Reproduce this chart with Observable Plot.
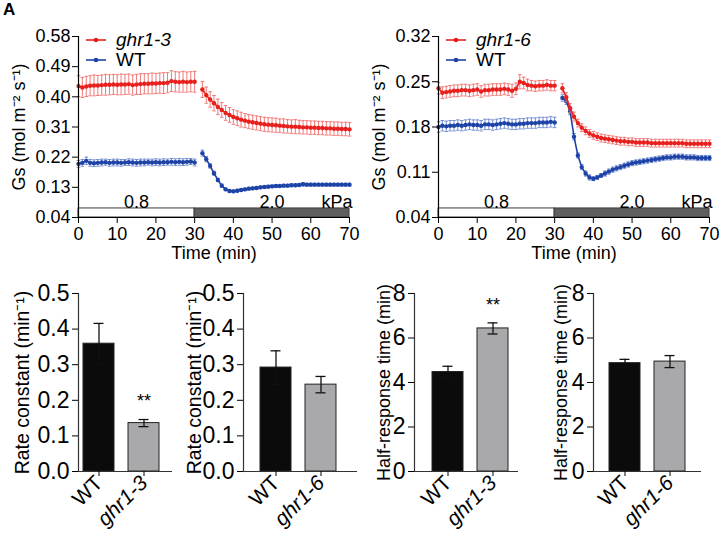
<!DOCTYPE html>
<html><head><meta charset="utf-8">
<script src="https://cdn.jsdelivr.net/npm/d3@7"></script>
<script src="https://cdn.jsdelivr.net/npm/@observablehq/plot@0.6"></script>
<style>
body{margin:0;background:#fff;font-family:"Liberation Sans",Arial,sans-serif;}
#root{position:relative;width:725px;height:536px;overflow:hidden;background:#fff;}
.panel{position:absolute;}
.leg{position:absolute;display:flex;align-items:center;font-size:19px;color:#000;line-height:20px;}
.leg svg{margin-right:10px;}
.letter{position:absolute;left:3px;top:0px;font-weight:bold;font-size:17px;}
</style></head><body><div id="root"></div>
<script>
// ---------- data ----------
const T_PRE  = [0,1,2,3,4,5,6,7,8,9,10,11,12,13,14,15,16,17,18,19,20,21,22,23,24,25,26,27,28,29,30];
const T_POST = [32,33,34,35,36,37,38,39,40,41,42,43,44,45,46,47,48,49,50,51,52,53,54,55,56,57,58,59,60,61,62,63,64,65,66,67,68,69,70];

// Panel 1: ghr1-3 vs WT
const G3_PRE = [0.432,0.428,0.431,0.433,0.434,0.434,0.435,0.436,0.436,0.437,
                0.436,0.437,0.437,0.438,0.435,0.437,0.438,0.439,0.439,0.440,
                0.440,0.441,0.441,0.442,0.447,0.445,0.444,0.445,0.444,0.445,
                0.445];
const G3_PRE_SEM = [0.031,0.030,0.030,0.030,0.031,0.030,0.030,0.031,0.030,0.030,
                    0.030,0.031,0.030,0.030,0.030,0.030,0.031,0.030,0.030,0.031,
                    0.030,0.030,0.031,0.030,0.031,0.030,0.030,0.031,0.030,0.030,
                    0.031];
const G3_POST = [0.422,0.405,0.392,0.381,0.370,0.361,0.352,0.346,0.340,0.336,
                 0.332,0.329,0.326,0.324,0.322,0.320,0.318,0.317,0.316,0.315,
                 0.314,0.313,0.312,0.311,0.311,0.310,0.309,0.309,0.308,0.308,
                 0.307,0.307,0.306,0.306,0.305,0.305,0.304,0.304,0.303];
const G3_POST_SEM = [0.024,0.024,0.023,0.023,0.023,0.022,0.022,0.022,0.022,0.022,
                     0.022,0.021,0.021,0.021,0.021,0.021,0.021,0.021,0.021,0.021,
                     0.020,0.021,0.020,0.020,0.021,0.020,0.020,0.020,0.020,0.020,
                     0.020,0.020,0.020,0.020,0.020,0.020,0.020,0.020,0.020];
const WT3_PRE = [0.200,0.203,0.209,0.203,0.202,0.203,0.204,0.205,0.203,0.204,
                 0.204,0.203,0.204,0.205,0.204,0.203,0.204,0.204,0.205,0.204,
                 0.205,0.204,0.205,0.205,0.206,0.205,0.206,0.205,0.206,0.207,
                 0.204];
const WT3_PRE_SEM = [0.010,0.010,0.011,0.010,0.010,0.010,0.010,0.009,0.010,0.010,
                     0.010,0.010,0.009,0.010,0.010,0.010,0.010,0.010,0.009,0.010,
                     0.010,0.010,0.010,0.009,0.010,0.010,0.010,0.010,0.010,0.009,
                     0.010];
const WT3_POST = [0.232,0.214,0.194,0.172,0.152,0.135,0.124,0.119,0.118,0.120,
                  0.122,0.124,0.126,0.127,0.128,0.130,0.131,0.132,0.133,0.134,
                  0.134,0.135,0.135,0.136,0.136,0.137,0.139,0.138,0.138,0.138,
                  0.138,0.138,0.138,0.138,0.138,0.138,0.138,0.138,0.138];
const WT3_POST_SEM = [0.009,0.008,0.007,0.006,0.005,0.005,0.004,0.004,0.004,0.004,
                      0.004,0.004,0.004,0.004,0.004,0.004,0.004,0.004,0.004,0.004,
                      0.004,0.004,0.004,0.004,0.004,0.004,0.005,0.004,0.004,0.004,
                      0.004,0.004,0.004,0.004,0.004,0.004,0.004,0.004,0.004];

// Panel 2: ghr1-6 vs WT
const G6_PRE = [0.240,0.233,0.234,0.235,0.236,0.236,0.237,0.237,0.236,0.237,
                0.238,0.235,0.237,0.237,0.238,0.238,0.238,0.239,0.238,0.236,
                0.239,0.250,0.248,0.245,0.244,0.243,0.244,0.244,0.245,0.244,
                0.244];
const G6_PRE_SEM = [0.009,0.009,0.009,0.009,0.009,0.009,0.009,0.009,0.009,0.009,
                    0.009,0.009,0.009,0.009,0.009,0.009,0.009,0.009,0.009,0.010,
                    0.009,0.011,0.009,0.009,0.008,0.008,0.008,0.008,0.008,0.008,
                    0.008];
const G6_POST = [0.240,0.226,0.209,0.196,0.186,0.179,0.174,0.170,0.167,0.165,
                 0.163,0.162,0.161,0.160,0.159,0.158,0.158,0.157,0.157,0.156,
                 0.156,0.156,0.156,0.155,0.155,0.155,0.155,0.155,0.155,0.155,
                 0.155,0.155,0.154,0.154,0.154,0.154,0.154,0.154,0.154];
const G6_POST_SEM = [0.007,0.007,0.007,0.007,0.006,0.006,0.006,0.006,0.006,0.006,
                     0.006,0.006,0.006,0.006,0.006,0.006,0.006,0.006,0.006,0.006,
                     0.006,0.006,0.006,0.006,0.006,0.006,0.006,0.006,0.006,0.006,
                     0.006,0.006,0.006,0.006,0.006,0.006,0.006,0.006,0.006];
const WT6_PRE = [0.180,0.182,0.181,0.182,0.182,0.183,0.182,0.183,0.184,0.183,
                 0.183,0.182,0.184,0.184,0.183,0.184,0.185,0.186,0.185,0.184,
                 0.184,0.185,0.185,0.186,0.186,0.186,0.187,0.187,0.187,0.188,
                 0.187];
const WT6_PRE_SEM = [0.008,0.008,0.008,0.008,0.008,0.008,0.008,0.008,0.008,0.008,
                     0.008,0.008,0.008,0.008,0.008,0.008,0.008,0.008,0.008,0.008,
                     0.008,0.008,0.008,0.008,0.008,0.008,0.008,0.008,0.008,0.008,
                     0.008];
const WT6_POST = [0.225,0.220,0.204,0.165,0.136,0.118,0.108,0.102,0.100,0.102,
                  0.105,0.108,0.111,0.114,0.116,0.118,0.120,0.122,0.124,0.125,
                  0.126,0.127,0.128,0.129,0.130,0.131,0.132,0.133,0.133,0.134,
                  0.134,0.134,0.133,0.133,0.133,0.132,0.132,0.132,0.132];
const WT6_POST_SEM = [0.005,0.005,0.005,0.005,0.004,0.004,0.004,0.004,0.003,0.003,
                      0.003,0.004,0.004,0.004,0.004,0.004,0.004,0.004,0.004,0.004,
                      0.004,0.004,0.004,0.004,0.004,0.004,0.004,0.004,0.004,0.004,
                      0.004,0.004,0.004,0.004,0.004,0.004,0.004,0.004,0.004];

// VPD steps
const STEP_START = [0, 30];
const STEP_END   = [30, 70];
const STEP_LABEL = ["0.8", "2.0"];
const STEP_UNIT  = "kPa";

const X_TICKS = [0,10,20,30,40,50,60,70];
const Y_TICKS_3 = [0.04,0.13,0.22,0.31,0.40,0.49,0.58];
const Y_TICKS_6 = [0.04,0.11,0.18,0.25,0.32];

// Bar panels
const CATS_3 = ["WT","ghr1-3"];
const CATS_6 = ["WT","ghr1-6"];
const RATE_3 = [0.359,0.136], RATE_3_SEM = [0.057,0.010];
const RATE_6 = [0.292,0.244], RATE_6_SEM = [0.047,0.023];
const HALF_3 = [4.47,6.43],   HALF_3_SEM = [0.26,0.25];
const HALF_6 = [4.87,4.94],   HALF_6_SEM = [0.17,0.27];
const SIG_3 = ["","**"];
const SIG_6 = ["",""];
const RATE_TICKS = [0,0.1,0.2,0.3,0.4,0.5];
const HALF_TICKS = [0,2,4,6,8];

// ---------- styling ----------
const RED = "#e8201d", RED_L = "#f07a78";
const BLUE = "#1d43a6", BLUE_L = "#7590d2";
const FONT = "Liberation Sans, Arial, Helvetica, sans-serif";
const HBAR = {draw(ctx, size){const r=Math.sqrt(size/Math.PI); ctx.moveTo(-r,0); ctx.lineTo(r,0);}};

const root = document.getElementById("root");
function place(el, left, top){ el.classList.add("panel"); el.style.left=left+"px"; el.style.top=top+"px"; root.appendChild(el); }

function rows(vPre, ePre, vPost, ePost){
  return [...T_PRE.map((t,i)=>({t, v:vPre[i], e:ePre[i], seg:0})),
          ...T_POST.map((t,i)=>({t, v:vPost[i], e:ePost[i], seg:1}))];
}
function seriesMarks(data, color, light){
  return [
    Plot.ruleX(data, {x:"t", y1:d=>d.v-d.e, y2:d=>d.v+d.e, stroke:light, strokeWidth:1}),
    Plot.dot(data, {x:"t", y:d=>d.v+d.e, symbol:HBAR, r:1.8, stroke:light, strokeWidth:1, fill:"none"}),
    Plot.dot(data, {x:"t", y:d=>d.v-d.e, symbol:HBAR, r:1.8, stroke:light, strokeWidth:1, fill:"none"}),
    Plot.line(data, {x:"t", y:"v", z:"seg", stroke:color, strokeWidth:1.6}),
    Plot.dot(data, {x:"t", y:"v", r:2.2, fill:color, stroke:"none"})
  ];
}

function setLabelSize(svg, axis, size){
  d3.select(svg).selectAll(`g[aria-label="${axis}-axis label"]`).attr("font-size", size).selectAll("text").attr("font-size", size);
}

function timePanel(cfg){
  const [y0,y1] = cfg.yDomain;
  const bandTop = y0 + (y1-y0)*0.05;
  const steps = STEP_START.map((s,i)=>({from:s, to:STEP_END[i], label:STEP_LABEL[i], fill: i===0 ? "#ffffff" : "#5f5f5f"}));
  const svg = Plot.plot({
    width: cfg.width, height: 260,
    marginLeft: 78, marginRight: cfg.marginRight, marginTop: 36, marginBottom: 43,
    x: {domain:[STEP_START[0], STEP_END[STEP_END.length-1]]},
    y: {domain: cfg.yDomain},
    color: {type:"identity"},
    style: {fontFamily: FONT, fontSize: "18px", color:"#000", background:"transparent", overflow:"visible"},
    marks: [
      Plot.rect(steps, {x1:"from", x2:"to", y1:y0, y2:bandTop, fill:"fill", stroke:"#3a3a3a", strokeWidth:1}),
      Plot.text(steps, {x:d=>(d.from+d.to)/2, y:bandTop, text:"label", lineAnchor:"bottom", dy:0, fontSize:18}),
      Plot.text([STEP_UNIT], {x:STEP_END[STEP_END.length-1], y:bandTop, text:d=>d, textAnchor:"end", lineAnchor:"bottom", dy:0, dx:3, fontSize:18}),
      ...seriesMarks(cfg.wt, BLUE, BLUE_L),
      ...seriesMarks(cfg.mut, RED, RED_L),
      Plot.ruleX([STEP_START[0]], {stroke:"#000", strokeWidth:1.2}),
      Plot.ruleY([y0], {stroke:"#000", strokeWidth:1.2}),
      Plot.axisY({ticks: cfg.yTicks, tickFormat: d3.format(".2f"), tickSize: 6, tickPadding: 2, fontSize: 18,
                  label: "Gs (mol m\u207B\u00B2 s\u207B\u00B9)", labelAnchor: "center", labelArrow: "none", labelOffset: 66}),
      Plot.axisX({ticks: X_TICKS, tickSize: 6, tickPadding: 4, fontSize: 18,
                  label: "Time (min)", labelAnchor: "center", labelArrow: "none", labelOffset: 41})
    ]
  });
  return svg;
}

function legend(left, top, items){
  items.forEach((it, i)=>{
    const d = document.createElement("div");
    d.className = "leg";
    d.style.left = left+"px"; d.style.top = (top + i*20)+"px";
    d.innerHTML = `<svg width="20" height="10"><line x1="0" y1="5" x2="20" y2="5" stroke="${it.color}" stroke-width="1.6"/><circle cx="10" cy="5" r="2.3" fill="${it.color}"/></svg><span style="${it.italic?'font-style:italic':''}">${it.label}</span>`;
    root.appendChild(d);
  });
}

function barPanel(cfg){
  const data = cfg.cats.map((c,i)=>({cat:c, v:cfg.vals[i], e:cfg.sems[i], sig:cfg.sig[i], fill: i===0 ? "#0b0b0b" : "#a9a9ab"}));
  // layout: bar width 31, step 45
  const L = cfg.width - cfg.marginLeft - cfg.marginRight;
  const step = 45, pi = 14/45;
  const outer = L - (2*step - 14);
  const svg = Plot.plot({
    width: cfg.width, height: 266,
    marginLeft: cfg.marginLeft, marginRight: cfg.marginRight, marginTop: 23, marginBottom: 65,
    x: {type:"band", domain: cfg.cats, paddingInner: pi, paddingOuter: outer/(2*step), align: cfg.gapLeft/outer},
    y: {domain: cfg.yDomain},
    color: {type:"identity"},
    style: {fontFamily: FONT, fontSize: "20px", color:"#000", background:"transparent", overflow:"visible"},
    marks: [
      Plot.barY(data, {x:"cat", y:"v", fill:"fill", stroke:"#222", strokeWidth:1}),
      Plot.ruleX(data, {x:"cat", y1:d=>d.v-d.e, y2:d=>d.v+d.e, stroke:"#111", strokeWidth:1.3}),
      Plot.tickY(data, {x:"cat", y:d=>d.v+d.e, stroke:"#111", strokeWidth:1.3, insetLeft:10.5, insetRight:10.5}),
      Plot.tickY(data, {x:"cat", y:d=>d.v-d.e, stroke:"#111", strokeWidth:1.3, insetLeft:10.5, insetRight:10.5}),
      Plot.text(data.filter(d=>d.sig), {x:"cat", y:d=>d.v+d.e, text:"sig", dy:-18, fontSize:18}),
      Plot.ruleY([cfg.yDomain[0]], {stroke:"#333", strokeWidth:1.2}),
      Plot.frame({anchor:"left", stroke:"#333", strokeWidth:1.2}),
      Plot.axisY({ticks: cfg.yTicks, tickFormat: cfg.fmt, tickSize: 6, tickPadding: 3, fontSize: 23,
                  label: cfg.label, labelAnchor:"center", labelArrow:"none", labelOffset: cfg.labelOffset}),
      Plot.axisX({tickSize: 5, tickPadding: 3, tickRotate: -45, fontSize: 21, label: null})
    ]
  });
  setLabelSize(svg, "y", cfg.labelSize);
  d3.select(svg).selectAll("text").filter(function(){ return /^ghr/.test(this.textContent); }).style("font-style","italic");
  return svg;
}

// ---------- render ----------
const letter = document.createElement("div"); letter.className="letter"; letter.textContent="A"; root.appendChild(letter);

place(timePanel({width:360, marginRight:11, yDomain:[0.04,0.58], yTicks:Y_TICKS_3,
  mut: rows(G3_PRE, G3_PRE_SEM, G3_POST, G3_POST_SEM),
  wt: rows(WT3_PRE, WT3_PRE_SEM, WT3_POST, WT3_POST_SEM)}), 0, 0);
place(timePanel({width:365, marginRight:16, yDomain:[0.04,0.32], yTicks:Y_TICKS_6,
  mut: rows(G6_PRE, G6_PRE_SEM, G6_POST, G6_POST_SEM),
  wt: rows(WT6_PRE, WT6_PRE_SEM, WT6_POST, WT6_POST_SEM)}), 360, 0);

legend(86, 30, [{label:"ghr1-3", color:RED, italic:true},{label:"WT", color:BLUE}]);
legend(446, 30, [{label:"ghr1-6", color:RED, italic:true},{label:"WT", color:BLUE}]);

const f1 = d3.format(".1f"), f0 = d3.format("d");
place(barPanel({width:180, marginLeft:78, marginRight:8, gapLeft:5, cats:CATS_3, vals:RATE_3, sems:RATE_3_SEM, sig:SIG_3,
  yDomain:[0,0.5], yTicks:RATE_TICKS, fmt:f1, label:"Rate constant (min\u207B\u00B9)", labelSize:19.5, labelOffset:63}), 0, 270);
place(barPanel({width:185, marginLeft:63, marginRight:8, gapLeft:17, cats:CATS_6, vals:RATE_6, sems:RATE_6_SEM, sig:SIG_6,
  yDomain:[0,0.5], yTicks:RATE_TICKS, fmt:f1, label:"Rate constant (min\u207B\u00B9)", labelSize:19.5, labelOffset:56}), 180, 270);
place(barPanel({width:165, marginLeft:49, marginRight:12, gapLeft:18, cats:CATS_3, vals:HALF_3, sems:HALF_3_SEM, sig:SIG_3,
  yDomain:[0,8], yTicks:HALF_TICKS, fmt:f0, label:"Half-response time (min)", labelSize:18, labelOffset:37}), 365, 270);
place(barPanel({width:195, marginLeft:63, marginRight:24, gapLeft:16, cats:CATS_6, vals:HALF_6, sems:HALF_6_SEM, sig:SIG_6,
  yDomain:[0,8], yTicks:HALF_TICKS, fmt:f0, label:"Half-response time (min)", labelSize:18, labelOffset:39}), 530, 270);
</script>
</body></html>
